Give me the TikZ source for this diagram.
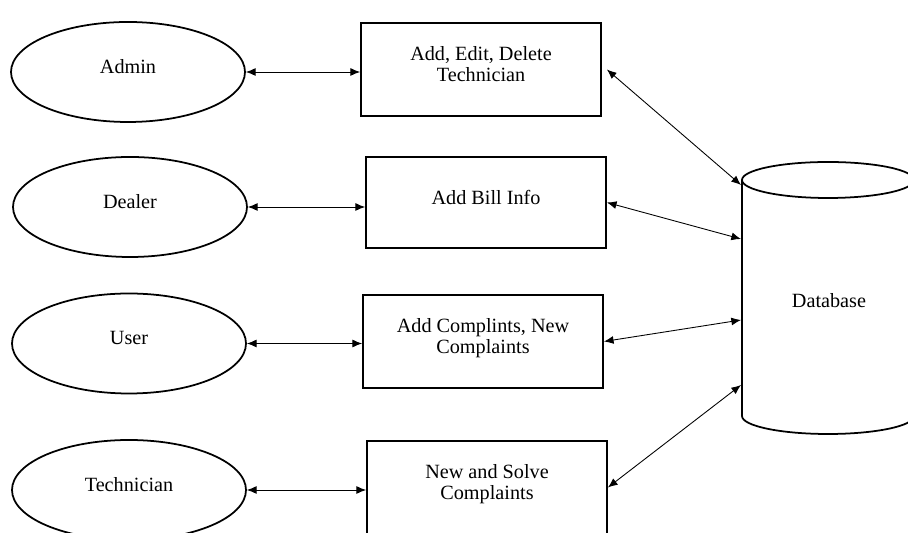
\documentclass[tikz,border=0pt]{standalone}
\usepackage{fontspec}
\setmainfont{Liberation Serif}
\usetikzlibrary{arrows.meta,shapes.geometric}

\begin{document}
\begin{tikzpicture}[
  actor/.style={draw,line width=1pt,ellipse,minimum width=4.68cm,minimum height=2cm,inner sep=0pt,text depth=0.22cm},
  task/.style={draw,line width=1pt,rectangle,minimum width=4.8cm,minimum height=1.86cm,align=center,inner sep=0pt,text depth=0.22cm},
  link/.style={line width=0.5pt,{Latex[length=5.5pt,width=4.5pt]}-{Latex[length=5.5pt,width=4.5pt]}},
  font=\fontsize{11.5}{11.6}\selectfont]
\clip (0,0) rectangle (18.16,10.66);
\node[actor] (admin) at (2.56,9.22) {Admin};
\node[actor] (dealer) at (2.60,6.52) {Dealer};
\node[actor] (user) at (2.58,3.79) {User};
\node[actor] (tech) at (2.58,0.86) {Technician};
\node[task] (addtech) at (9.62,9.27) {Add, Edit, Delete\\Technician};
\node[task,minimum height=1.82cm] (addbill) at (9.72,6.61) {Add Bill Info};
\node[task] (addcomp) at (9.66,3.83) {Add Complints, New\\Complaints};
\node[task] (solve) at (9.74,0.91) {New and Solve\\Complaints};
\draw[line width=1pt] (14.84,7.06) -- (14.84,2.34) arc[start angle=180,end angle=360,x radius=1.72,y radius=0.36] -- (18.28,7.06);
\draw[line width=1pt] (16.56,7.06) ellipse [x radius=1.72,y radius=0.36];
\node (db) at (16.58,4.64) {Database};
\coordinate (d1) at (14.82,6.96);
\coordinate (d2) at (14.82,5.88);
\coordinate (d3) at (14.82,4.26);
\coordinate (d4) at (14.82,2.96);
\draw[link] (admin.east) -- (admin.east -| addtech.west);
\draw[link] (dealer.east) -- (dealer.east -| addbill.west);
\draw[link] (user.east) -- (user.east -| addcomp.west);
\draw[link] (tech.east) -- (tech.east -| solve.west);
\draw[link] ([xshift=0.1cm]addtech.east) -- (d1);
\draw[link] (addbill.east) -- (d2);
\draw[link] (addcomp.east) -- (d3);
\draw[link] (solve.east) -- (d4);
\end{tikzpicture}
\end{document}
